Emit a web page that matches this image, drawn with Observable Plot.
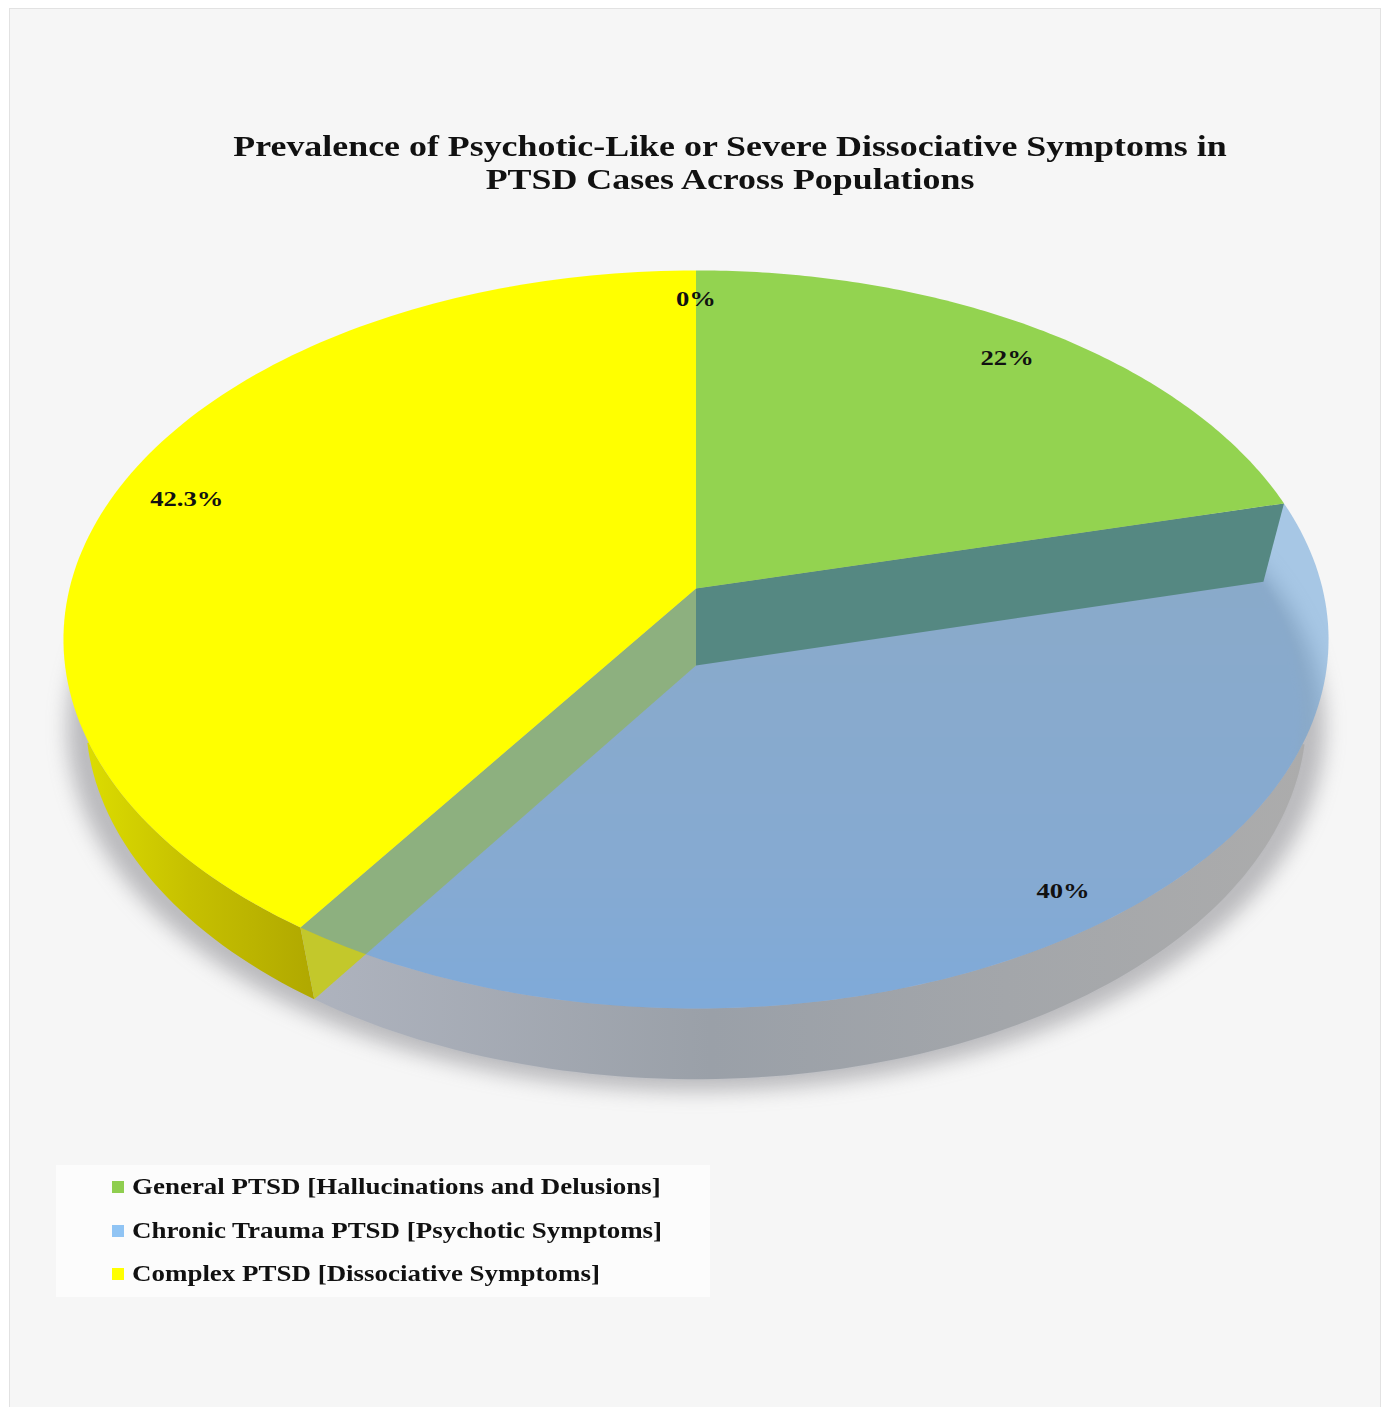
<!DOCTYPE html>
<html>
<head>
<meta charset="utf-8">
<title>PTSD symptom prevalence</title>
<script src="https://cdn.jsdelivr.net/npm/d3@7"></script>
<script src="https://cdn.jsdelivr.net/npm/@observablehq/plot@0.6"></script>
<style>
  html, body { margin: 0; padding: 0; background: #fff; }
  #page { position: relative; width: 1388px; height: 1407px; overflow: hidden;
          font-family: "Liberation Serif", serif; font-weight: bold; color: #111; }
  #card { position: absolute; left: 9px; top: 8px; width: 1370px; height: 1420px;
          background: #f6f6f6; border: 1px solid #e2e2e2; }
  #chart { position: absolute; left: 0; top: 0; }
  #chart svg { background: none; display: block; }
  .title-line { position: absolute; left: 0; width: 1460px; text-align: center; white-space: nowrap;
                font-size: 29px; line-height: 33px; transform: scaleX(1.237); transform-origin: 730px 0; }
  #legend { position: absolute; left: 56px; top: 1165px; width: 654px; height: 132px; background: #fcfcfc; }
  .key { position: absolute; left: 56px; width: 12px; height: 12px; }
  .entry { position: absolute; left: 76px; white-space: nowrap; font-size: 24px; line-height: 26px;
           transform: scaleX(1.123); transform-origin: 0 0; }
</style>
</head>
<body>
<div id="page">
  <div id="card"></div>
  <div id="chart"></div>
  <div class="title-line" id="t1" style="top:130px"></div>
  <div class="title-line" id="t2" style="top:163px"></div>
  <div id="legend"></div>
</div>
<script>
// Chart content
const titleLines = [
  "Prevalence of Psychotic-Like or Severe Dissociative Symptoms in",
  "PTSD Cases Across Populations"
];
const categories = [
  "General PTSD [Hallucinations and Delusions]",
  "Chronic Trauma PTSD [Psychotic Symptoms]",
  "Complex PTSD [Dissociative Symptoms]",
  ""
];
const values = [22, 40, 42.3, 0];
const valueLabels = ["22%", "40%", "42.3%", "0%"];
const legendColors = ["#8fce4f", "#90c4f4", "#ffff00"];

// Tilted-disc camera: radii, perspective strength and extrusion of the lower face
const radiusX = 626.5, radiusY = 362, tilt = 0.138;
const lowerScaleX = 0.965, lowerScaleY = 0.985, thickness = 77;
// Where each value label sits along its slice's middle direction
const labelRadii = [0.885, 0.915, 0.88, 0.9];

const total = d3.sum(values);
const cumulative = d3.cumsum(values);
const angleAt = (i) => ((i < 0 ? 0 : cumulative[i]) / total) * 2 * Math.PI;

// Angles run clockwise from twelve o'clock; r = 1 is the rim
function upper(angle, r = 1) {
  const u = r * Math.sin(angle), v = r * Math.cos(angle), w = 1 + tilt * v;
  return {x: (radiusX * u) / w, y: (radiusY * v) / w};
}
function lower(angle, r = 1, extraDepth = 0, extraX = 1) {
  const p = upper(angle, r);
  return {x: p.x * lowerScaleX * extraX, y: p.y * lowerScaleY - thickness - extraDepth};
}
function insideUpper(p) {
  const v = p.y / (radiusY - tilt * p.y);
  const u = (p.x * (1 + tilt * v)) / radiusX;
  return u * u + v * v <= 1;
}
function angleOnUpper(p) {
  const v = p.y / (radiusY - tilt * p.y);
  const u = (p.x * (1 + tilt * v)) / radiusX;
  const a = Math.atan2(u, v);
  return a < 0 ? a + 2 * Math.PI : a;
}
const arc = (a0, a1, face) => d3.range(0, 121).map((k) => face(a0 + ((a1 - a0) * k) / 120));
const wedge = (i, face) => [face(0, 0), ...arc(angleAt(i - 1), angleAt(i), face)];

// The side band of a slice, kept to the stretch where the lower rim shows outside the upper face
function band(i) {
  const outer = arc(angleAt(i - 1), angleAt(i), lower).filter((p) => !insideUpper(p));
  const a0 = Math.max(angleOnUpper(outer[0]), angleAt(i - 1));
  const a1 = Math.min(angleOnUpper(outer[outer.length - 1]), angleAt(i));
  return [...arc(a0, a1, upper), ...outer.reverse()];
}
// The cut face running from the hub to the rim at a slice boundary
const wall = (angle) => [upper(0, 0), upper(angle), lower(angle), lower(0, 0)];

const greenEnd = angleAt(0), blueEnd = angleAt(1);

function gradient(id, horizontal, stops) {
  const ns = "http://www.w3.org/2000/svg";
  const g = document.createElementNS(ns, "linearGradient");
  g.setAttribute("id", id);
  g.setAttribute("x2", horizontal ? "1" : "0");
  g.setAttribute("y2", horizontal ? "0" : "1");
  stops.forEach(([offset, color]) => {
    const s = document.createElementNS(ns, "stop");
    s.setAttribute("offset", offset);
    s.setAttribute("stop-color", color);
    g.appendChild(s);
  });
  return g;
}
function gradientDefs() {
  const defs = document.createElementNS("http://www.w3.org/2000/svg", "defs");
  defs.appendChild(gradient("rimGrey", true, [[0, "#aeb3be"], [0.4, "#9aa0a8"], [1, "#acacac"]]));
  defs.appendChild(gradient("rimYellow", true, [[0, "#dcdc00"], [0.45, "#c6c000"], [1, "#b0a800"]]));
  defs.appendChild(gradient("baseBlue", false, [[0, "#bcbcc0"], [0.6, "#b4bcd0"], [1, "#a0bce6"]]));
  return defs;
}

// Softens one mark's group
const blurred = (px) => (index, scales, values, dimensions, context, next) => {
  const g = next(index, scales, values, dimensions, context);
  g.style.filter = `blur(${px}px)`;
  return g;
};

const slice = (points, fill, extra = {}) =>
  Plot.line(points, {x: "x", y: "y", fill, stroke: "none", curve: "linear", ...extra});

const labelRows = values.map((v, i) => {
  const p = upper((angleAt(i - 1) + angleAt(i)) / 2, labelRadii[i]);
  return {x: p.x, y: p.y, text: valueLabels[i]};
});

const plot = Plot.plot({
  width: 1388,
  height: 1407,
  margin: 0,
  x: {domain: [-695.5, 692.5], range: [0, 1388], axis: null},
  y: {domain: [588, 588 - 1407], range: [0, 1407], axis: null},
  marks: [
    gradientDefs,
    slice(arc(0, 2 * Math.PI, (a) => lower(a, 1, 12, 1.03)), "#6a6a70", {fillOpacity: 0.42, render: blurred(10)}),
    slice(wedge(1, (a, r = 1) => lower(a, r, -5, 0.992)), "url(#baseBlue)", {render: blurred(3)}),
    slice(band(1), "url(#rimGrey)"),
    slice(band(2), "url(#rimYellow)"),
    slice(wall(greenEnd), "#537930"),
    slice(wall(blueEnd), "#c3c82b"),
    slice(wedge(1, (a, r = 1) => upper(a, r)), "#5797d3", {fillOpacity: 0.5}),
    slice(wedge(0, (a, r = 1) => upper(a, r)), "#93d350"),
    slice(wedge(2, (a, r = 1) => upper(a, r)), "#ffff00"),
    Plot.text(labelRows, {
      x: "x", y: "y", text: "text", fontSize: 22, fontWeight: "bold",
      fontFamily: "Liberation Serif", fill: "#111"
    })
  ]
});
document.getElementById("chart").appendChild(plot);

// Widen the value labels to the proportions of the heading type
plot.querySelectorAll('g[aria-label="text"] text').forEach((t) => {
  t.setAttribute("lengthAdjust", "spacingAndGlyphs");
  t.setAttribute("textLength", t.getComputedTextLength() * 1.21);
});

document.getElementById("t1").textContent = titleLines[0];
document.getElementById("t2").textContent = titleLines[1];

const legend = document.getElementById("legend");
legendColors.forEach((color, i) => {
  const top = 8 + i * 43.5;
  const key = document.createElement("div");
  key.className = "key";
  key.style.top = top + 8 + "px";
  key.style.background = color;
  const entry = document.createElement("div");
  entry.className = "entry";
  entry.style.top = top + "px";
  entry.textContent = categories[i];
  legend.append(key, entry);
});
</script>
</body>
</html>
